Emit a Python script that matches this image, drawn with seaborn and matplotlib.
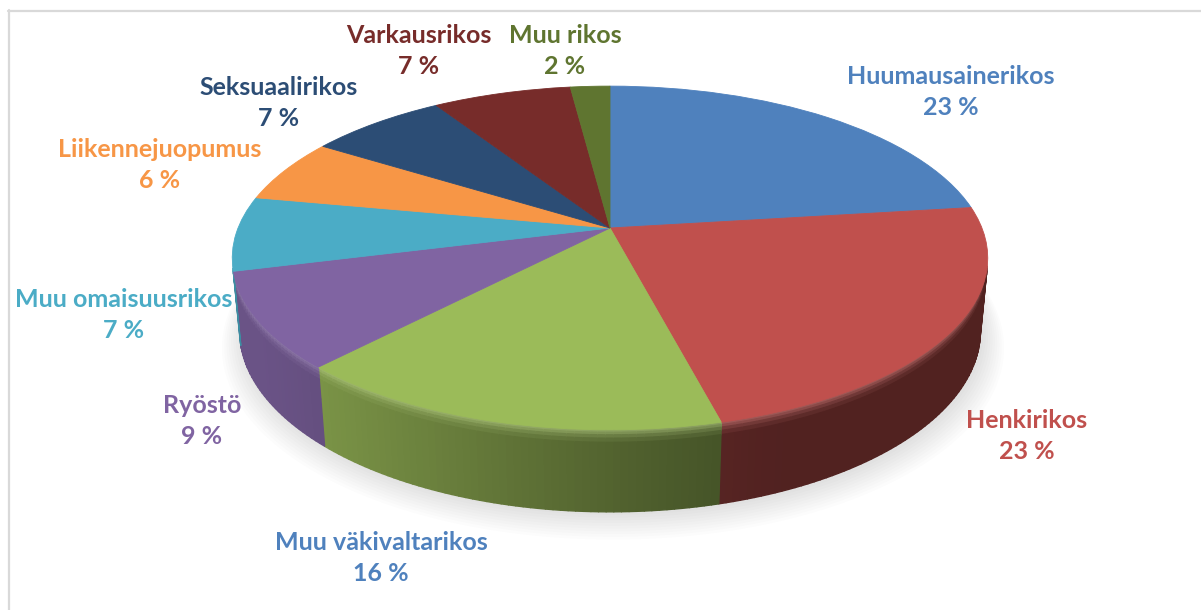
import numpy as np
import matplotlib
matplotlib.use("Agg")
import matplotlib.pyplot as plt
import matplotlib.transforms as mtransforms
from matplotlib.collections import PolyCollection
from matplotlib.colors import to_rgb
import seaborn as sns

# data
categories = ["Huumausainerikos", "Henkirikos", "Muu väkivaltarikos", "Ryöstö",
              "Muu omaisuusrikos", "Liikennejuopumus", "Seksuaalirikos",
              "Varkausrikos", "Muu rikos"]
shares = [23, 23, 16, 9, 7, 6, 7, 7, 2]
slice_colors = ["#4F81BD", "#C0504D", "#9BBB59", "#8064A2", "#4BACC6",
                "#F79646", "#2C4D75", "#772C2A", "#5F7530"]
label_colors = ["#4F81BD", "#C0504D", "#4F81BD", "#8064A2", "#4BACC6",
                "#F79646", "#2C4D75", "#772C2A", "#5F7530"]

# label baselines in pixels (name line, percent line is one row lower)
label_pos = [(951, 84), (1027, 428), (381, 550), (202, 413), (124, 307),
             (160, 157), (279, 95), (419, 43), (565, 43)]

sns.set_theme(style="white")
plt.rcParams["font.family"] = ["Lato", "DejaVu Sans"]

# camera for the tilted pie, result in pixel coords
CX, CY = 610, 228
SCALE = 1907
DIST = 5.127
SIN_E, COS_E = 0.448, 0.894
DEPTH = 0.22


def project(x, y, z=0.0):
    v = y * SIN_E + z * COS_E
    w = DIST + y * COS_E - z * SIN_E
    return CX + SCALE * x / w, CY - SCALE * v / w


class Tilt(mtransforms.Transform):
    input_dims = 2
    output_dims = 2

    def transform_non_affine(self, values):
        values = np.asarray(values, float)
        px, py = project(values[:, 0], values[:, 1])
        return np.column_stack([px, py])


def light(th):
    return 0.42 + 0.41 * np.clip(np.cos(np.radians(th - 205)), 0, None) ** 1.5


fig = plt.figure(figsize=(12.01, 6.10), dpi=100)
ax = fig.add_axes([0, 0, 1, 1])

wedges, _ = ax.pie(shares, colors=sns.color_palette(slice_colors), startangle=90,
                   counterclock=False, radius=1, wedgeprops=dict(linewidth=0.6))
tilt = Tilt() + ax.transData
for w in wedges:
    w.set_transform(tilt)
    w.set_edgecolor(w.get_facecolor())
    w.set_zorder(3)

# rim of the pie
bands = np.array([0, 0.03, 0.06, 0.1, 0.15, 0.4, 1.0])
gloss = np.array([0.6, 0.45, 0.25, 0.1, 0, 0])
for w, col in zip(wedges, slice_colors):
    th = np.linspace(w.theta1, w.theta2, int((w.theta2 - w.theta1) / 1.0) + 2)
    rad = np.radians(th)
    vis = np.sin(rad) < -1 / (DIST * COS_E)
    base = np.array(to_rgb(col))
    hi = base + (1 - base) * 0.25
    polys, faces = [], []
    for i in range(len(th) - 1):
        if not (vis[i] and vis[i + 1]):
            continue
        side = base * light(((th[i] + th[i + 1]) / 2) % 360)
        c0, s0 = np.cos(rad[i]), np.sin(rad[i])
        c1, s1 = np.cos(rad[i + 1]), np.sin(rad[i + 1])
        for j in range(len(bands) - 1):
            z0, z1 = -bands[j] * DEPTH, -bands[j + 1] * DEPTH
            polys.append([project(c0, s0, z0), project(c1, s1, z0),
                          project(c1, s1, z1), project(c0, s0, z1)])
            faces.append(side * (1 - gloss[j]) + hi * gloss[j])
    if polys:
        ax.add_collection(PolyCollection(polys, facecolors=faces, edgecolors=faces,
                                         linewidths=1.0, zorder=2))

# soft shadow under the pie
tt = np.radians(np.linspace(0, 360, 361))
for k in range(10):
    r = 1.0 + 0.006 * k
    sx, sy = project(r * np.cos(tt), r * np.sin(tt), -DEPTH)
    ax.fill(sx + 3, sy + 3 + 1.2 * k, color="0.5", alpha=0.025, lw=0, zorder=1)

for name, pct, col, (x, y) in zip(categories, shares, label_colors, label_pos):
    ax.text(x, y, name, color=col, fontsize=18, fontweight="bold",
            ha="center", va="baseline", zorder=5)
    ax.text(x, y + 31, f"{pct} %", color=col, fontsize=18, fontweight="bold",
            ha="center", va="baseline", zorder=5)

# chart frame
ax.plot([8, 1201], [10.5, 10.5], color="#D9D9D9", lw=1.6, zorder=0)
ax.plot([8.5, 8.5], [10, 610], color="#D9D9D9", lw=1.6, zorder=0)

ax.set_xlim(0, 1201)
ax.set_ylim(610, 0)
ax.set_aspect("auto")
ax.axis("off")

fig.savefig("out.png", dpi=100)
